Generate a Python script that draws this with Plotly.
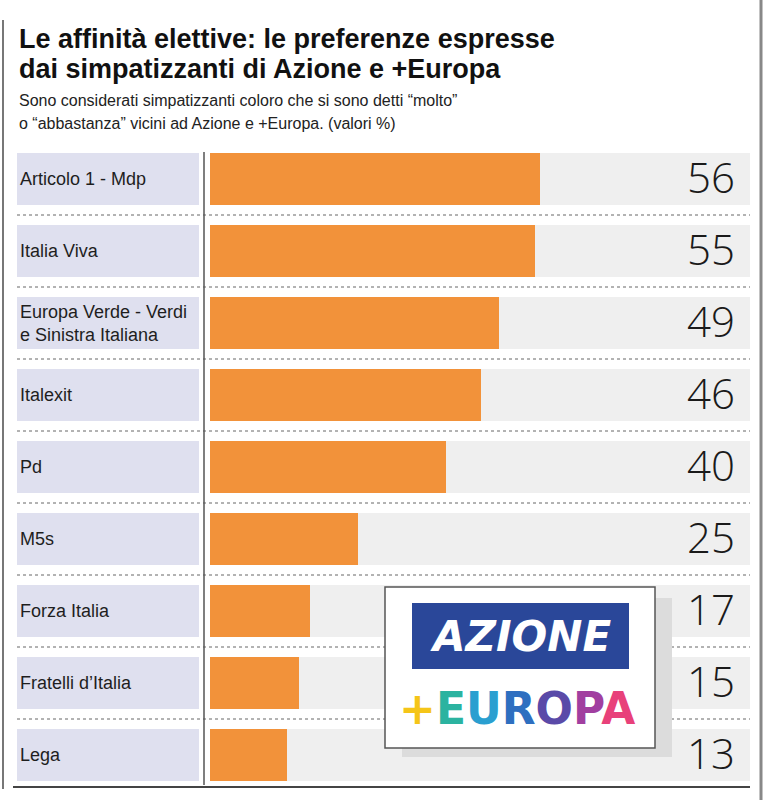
import plotly.graph_objects as go

categories = ["Articolo 1 - Mdp", "Italia Viva", "Europa Verde - Verdi<br>e Sinistra Italiana",
              "Italexit", "Pd", "M5s", "Forza Italia", "Fratelli d’Italia", "Lega"]
values = [56, 55, 49, 46, 40, 25, 17, 15, 13]

title_lines = ["Le affinità elettive: le preferenze espresse",
               "dai simpatizzanti di Azione e +Europa"]
subtitle_lines = ["Sono considerati simpatizzanti coloro che si sono detti “molto”",
                  "o “abbastanza” vicini ad Azione e +Europa. (valori %)"]

W, H = 772, 800
L, R, T, B = 17, 750, 143, 791
PW, PH = R - L, B - T


def px(x):
    return (x - L) / PW


def py(y):
    return (B - y) / PH


ORANGE = "#f2923a"
LAV = "#dfe0ef"
GRAY = "#efefef"
SANS = "Liberation Sans, Arial, sans-serif"

idx = list(range(len(categories)))
zero_px, unit_px = 210, 5.9
xmin = -(zero_px - L) / unit_px
xmax = (R - zero_px) / unit_px
half = 26 / 72

fig = go.Figure()
fig.add_trace(go.Bar(y=idx, x=values, orientation="h", width=2 * half,
                     marker=dict(color=ORANGE, line=dict(width=0)), hoverinfo="skip"))

shapes = []
annotations = []
for i, (c, v) in enumerate(zip(categories, values)):
    shapes.append(dict(type="rect", xref="paper", yref="y", x0=px(17), x1=px(199),
                       y0=i - half, y1=i + half, fillcolor=LAV, line=dict(width=0), layer="below"))
    shapes.append(dict(type="rect", xref="paper", yref="y", x0=px(211), x1=px(750),
                       y0=i - half, y1=i + half, fillcolor=GRAY, line=dict(width=0), layer="below"))
    annotations.append(dict(xref="paper", yref="y", x=px(18), y=i, text=c, showarrow=False,
                            xanchor="left", yanchor="middle", align="left",
                            font=dict(family=SANS, size=18, color="#1e1e1e")))
    annotations.append(dict(xref="paper", yref="y", x=px(737), y=i, text=str(v), showarrow=False,
                            xanchor="right", yanchor="middle", yshift=3,
                            font=dict(family="Open Sans, Liberation Sans, sans-serif", size=42,
                                      weight=300, color="#1a1a1a")))
    if i < len(categories) - 1:
        shapes.append(dict(type="line", xref="paper", yref="y", x0=px(17), x1=px(750),
                           y0=i + 0.5, y1=i + 0.5, line=dict(color="#666", width=1, dash="dot")))

# axis line
shapes.append(dict(type="line", xref="paper", yref="paper", x0=px(204), x1=px(204),
                   y0=py(152), y1=py(785), line=dict(color="#555", width=1.5)))
# frame lines
shapes.append(dict(type="line", xref="paper", yref="paper", x0=px(3), x1=px(3),
                   y0=py(20), y1=py(789), line=dict(color="#777", width=2)))
shapes.append(dict(type="line", xref="paper", yref="paper", x0=px(761), x1=px(761),
                   y0=py(0), y1=py(800), line=dict(color="#888", width=3)))
shapes.append(dict(type="line", xref="paper", yref="paper", x0=px(13), x1=px(750),
                   y0=py(787), y1=py(787), line=dict(color="#444", width=2)))

# logo box
shapes.append(dict(type="rect", xref="paper", yref="paper", x0=px(402), x1=px(672),
                   y0=py(598), y1=py(757), fillcolor="#dcdcdc", line=dict(width=0)))
shapes.append(dict(type="rect", xref="paper", yref="paper", x0=px(385), x1=px(655),
                   y0=py(587), y1=py(748), fillcolor="white", line=dict(color="#555", width=1.5)))
shapes.append(dict(type="rect", xref="paper", yref="paper", x0=px(412), x1=px(629),
                   y0=py(603), y1=py(669), fillcolor="#2a4799", line=dict(width=0)))
annotations.append(dict(xref="paper", yref="paper", x=px(520), y=py(636), text="<b><i>AZIONE</i></b>",
                        showarrow=False, xanchor="center", yanchor="middle",
                        font=dict(family="DejaVu Sans", size=42, color="white")))
europa = ("<span style='color:#f5c518'>+</span><span style='color:#2bb3a0'>E</span>"
          "<span style='color:#2a9fd0'>U</span><span style='color:#2e6fc0'>R</span>"
          "<span style='color:#5a4aa8'>O</span><span style='color:#a13fa0'>P</span>"
          "<span style='color:#e8417a'>A</span>")
annotations.append(dict(xref="paper", yref="paper", x=px(517), y=py(708), text="<b>" + europa + "</b>",
                        showarrow=False, xanchor="center", yanchor="middle",
                        font=dict(family="DejaVu Sans", size=44, color="#333")))

# titles
for t, yc in zip(title_lines, [39, 69]):
    annotations.append(dict(xref="paper", yref="paper", x=px(17), y=py(yc), text="<b>" + t + "</b>",
                            showarrow=False, xanchor="left", yanchor="middle",
                            font=dict(family=SANS, size=27, color="#111")))
for t, yc in zip(subtitle_lines, [100, 124]):
    annotations.append(dict(xref="paper", yref="paper", x=px(17), y=py(yc), text=t,
                            showarrow=False, xanchor="left", yanchor="middle",
                            font=dict(family=SANS, size=16, color="#222")))

fig.update_layout(
    width=W, height=H,
    margin=dict(l=L, r=W - R, t=T, b=H - B),
    paper_bgcolor="white", plot_bgcolor="white",
    showlegend=False, bargap=0,
    xaxis=dict(range=[xmin, xmax], visible=False, fixedrange=True),
    yaxis=dict(range=[len(categories) - 0.5, -0.5], visible=False, fixedrange=True),
    shapes=shapes, annotations=annotations,
)

fig.write_html("out.html", config={"displayModeBar": False},
               post_script="document.body.style.margin='0';")
